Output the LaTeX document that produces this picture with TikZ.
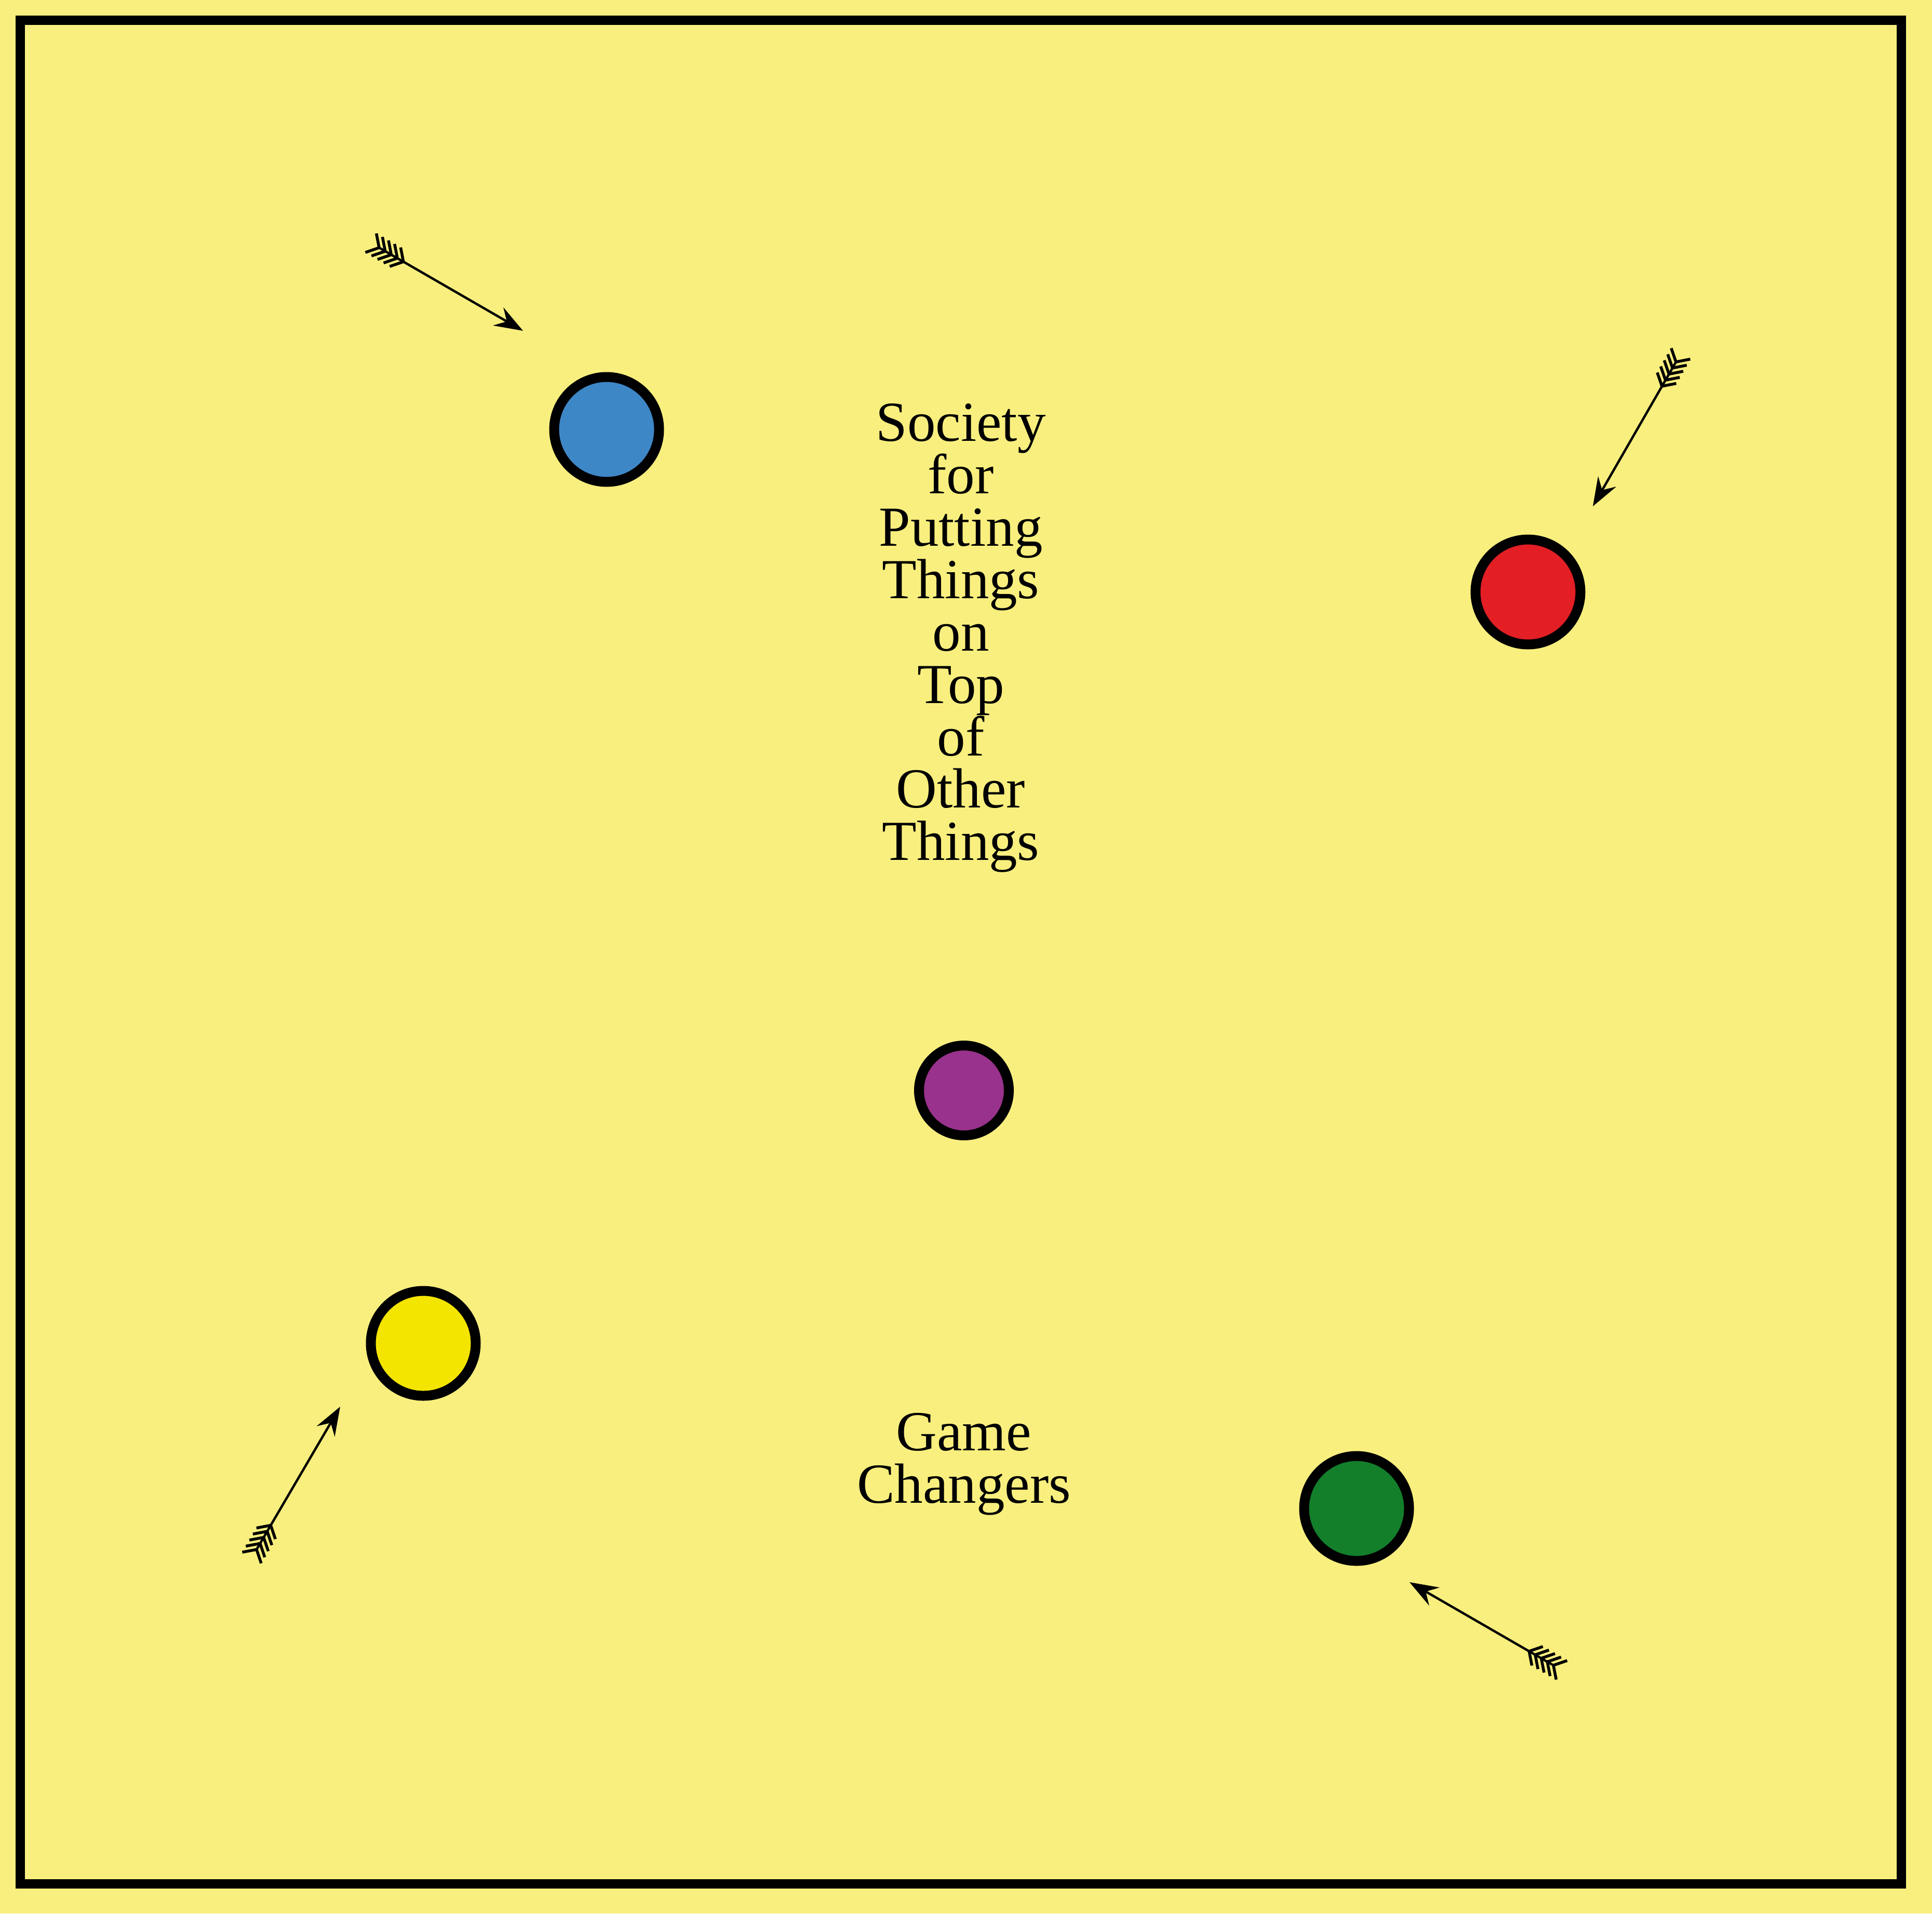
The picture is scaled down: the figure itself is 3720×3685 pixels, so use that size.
\documentclass[tikz,border=0pt]{standalone}
\usepackage{fontspec}
\setmainfont{Liberation Serif}
\usetikzlibrary{arrows.meta,calc}
\definecolor{paper}{HTML}{F9EF7E}
\definecolor{dotblue}{HTML}{3E87C7}
\definecolor{dotred}{HTML}{E41E25}
\definecolor{dotyellow}{HTML}{F4E500}
\definecolor{dotgreen}{HTML}{137F2B}
\definecolor{dotpurple}{HTML}{99328C}
\begin{document}
\begin{tikzpicture}[x=0.1mm, y=-0.1mm,
    dot/.style={circle, draw=black, line width=1.9mm, minimum size=20.2mm, inner sep=0pt},
    shaft/.style={line width=0.45mm, -{Stealth[length=5.5mm, width=4mm, inset=1.9mm]}},
    fletch/.style={line width=0.55mm},
    words/.style={align=center, inner sep=0pt, font=\fontsize{31pt}{28.7pt}\selectfont}]
    \fill[paper] (0,0) rectangle (3720,3685);
    \draw[line width=1.8mm] (39,39) rectangle (3661,3628);
    \node[dot, fill=dotblue] (blue) at (1168,827) {};
    \node[dot, fill=dotred] (red) at (2942,1140) {};
    \node[dot, fill=dotyellow] (yellow) at (815,2587) {};
    \node[dot, fill=dotgreen] (green) at (2612,2905) {};
    \node[dot, fill=dotpurple, minimum size=17.3mm] (purple) at (1856,2100) {};
    \node[words, anchor=north] (society) at (1850,777)
        {Society\\for\\Putting\\Things\\on\\Top\\of\\Other\\Things};
    \node[words, anchor=north] (game) at (1856,2721) {Game\\Changers};
    \coordinate (blue-tail) at (730,477);
    \coordinate (blue-tip) at (1007,637);
    \coordinate (red-tail) at (3227,697);
    \coordinate (red-tip) at (3067,975);
    \coordinate (yellow-tail) at (494,2984);
    \coordinate (yellow-tip) at (655,2709);
    \coordinate (green-tail) at (2991,3207);
    \coordinate (green-tip) at (2714,3047);
    \foreach \a in {blue,red,yellow,green} {
        \draw[shaft] (\a-tail) -- (\a-tip);
        \foreach \k in {0,...,4} {
            \coordinate (v) at ($(\a-tail)!\k*1.35mm!(\a-tip)$);
            \draw[fletch] ($(v)!2.8mm!131:(\a-tip)$) -- (v) -- ($(v)!2.8mm!-131:(\a-tip)$);
        }
    }
\end{tikzpicture}
\end{document}
